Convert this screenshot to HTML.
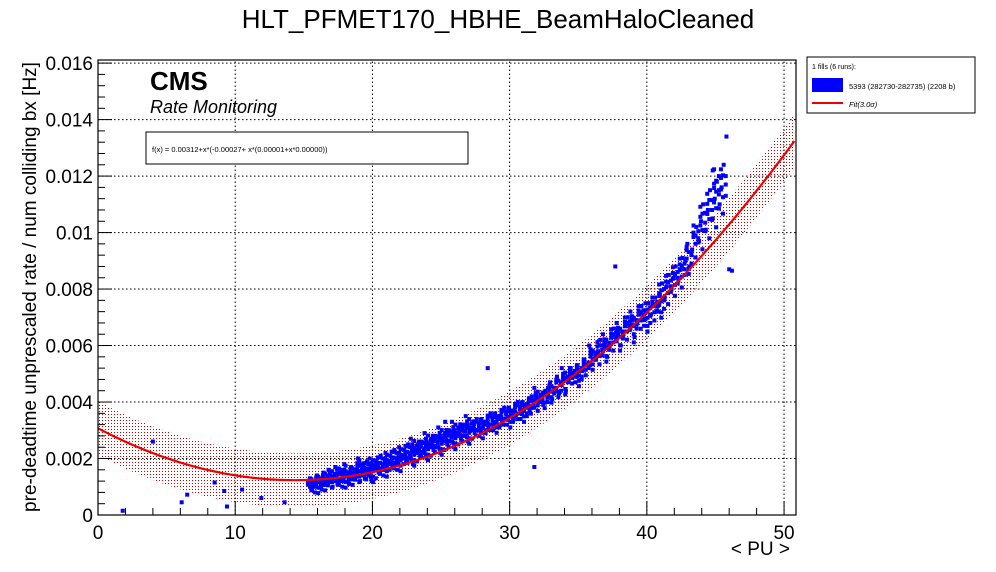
<!DOCTYPE html>
<html><head><meta charset="utf-8"><style>
body{margin:0;background:#fff;}
svg{display:block;font-family:"Liberation Sans",sans-serif;}
</style></head><body>
<svg id="chart" width="996" height="572">
<defs>
<pattern id="dots" width="3" height="3" patternUnits="userSpaceOnUse"><rect width="1" height="1" fill="#b00"/></pattern>
</defs>
<rect width="996" height="572" fill="#fff"/>
<text x="498" y="28" text-anchor="middle" font-size="26">HLT_PFMET170_HBHE_BeamHaloCleaned</text>
<g id="grid"></g>
<g id="band"></g>
<g id="points"></g>
<g id="fitline"></g>
<rect x="98" y="60" width="698" height="455" fill="none" stroke="#000" stroke-width="1.2"/>
<g id="axes"></g>
<text x="150" y="90" font-size="26" font-weight="bold">CMS</text>
<text x="150" y="113" font-size="18" font-style="italic">Rate Monitoring</text>
<g>
<rect x="146" y="132" width="322" height="32" fill="#fff" stroke="#000"/>
<text x="152" y="152" font-size="7.5">f(x) = 0.00312+x*(-0.00027+ x*(0.00001+x*0.00000))</text>
</g>
<text x="36" y="287" font-size="19" text-anchor="middle" transform="rotate(-90 36 287)">pre-deadtime unprescaled rate / num colliding bx [Hz]</text>
<text x="790" y="555" font-size="19" text-anchor="end">&lt; PU &gt;</text>
<g>
<rect x="807" y="57" width="168" height="56" fill="#fff" stroke="#000"/>
<text x="812" y="69" font-size="7">1 fills (6 runs):</text>
<g><rect x="812" y="78" width="31" height="14" fill="#0000ff"/>
<text x="849" y="89" font-size="7.5">5393 (282730-282735) (2208 b)</text></g>
<g><line x1="812" y1="103" x2="843" y2="103" stroke="#e00" stroke-width="2"/>
<text x="849" y="107" font-size="7.5" font-style="italic">Fit(3.0σ)</text></g>
</g>
</svg>
<script>
const fitCoeffs=[0.00307,-0.000255,0.0000088,0.0000000034];
const bandHalfWidth=0.00095;
const xTicks=[0,10,20,30,40,50];
const yTicks=[0,0.002,0.004,0.006,0.008,0.01,0.012,0.014,0.016];
const yTickLabels=["0","0.002","0.004","0.006","0.008","0.01","0.012","0.014","0.016"];
const outlierPU=[1.8,4,6.1,6.5,8.5,9.2,9.4,10.5,11.9,13.6,28.4,31.8,37.7,46,46.2,45.8,25.3];
const outlierRate=[0.00015,0.0026,0.00045,0.00072,0.00115,0.00085,0.0003,0.0009,0.0006,0.00045,0.0052,0.0017,0.0088,0.0087,0.00865,0.0134,0.0033];
const groupPU=[15.5,16,16.5,17,17.5,18,18.5,19,19.5,20,20.5,21,21.5,22,22.5,23,23.5,24,24.5,25,25.5,26,26.5,27,27.5,28,28.5,29,29.5,30,30.5,31,31.5,32,32.5,33,33.5,34,34.5,35,35.5,36,36.5,37,37.5,38,38.5,39,39.5,40,40.5,41,41.5,42,42.5,43,43.5,44,44.5,45,45.5];
const groupRates=[
[.0011,.0013,.0009,.0012,.0010],[.0010,.0014,.0012,.0008,.0013],[.0011,.0015,.0013,.0009,.0012],[.0012,.0014,.0010,.0016,.0013],[.0013,.0011,.0015,.0017,.0012],
[.0012,.0016,.0014,.0010,.0018],[.0013,.0017,.0015,.0011,.0014],[.0014,.0018,.0012,.0016,.0020],[.0015,.0013,.0019,.0017,.0016],[.0014,.0018,.0016,.0020,.0012],
[.0017,.0015,.0021,.0019,.0016],[.0016,.0020,.0018,.0014,.0022],[.0019,.0017,.0023,.0021,.0018],[.0018,.0022,.0020,.0016,.0024],[.0021,.0019,.0025,.0023,.0020],
[.0020,.0024,.0022,.0027,.0018],[.0023,.0021,.0026,.0025,.0022],[.0022,.0026,.0024,.0029,.0020],[.0025,.0023,.0028,.0027],[.0024,.0028,.0026,.0031,.0022],
[.0027,.0025,.0030,.0029],[.0026,.0030,.0028,.0033,.0024],[.0029,.0027,.0032,.0031],[.0028,.0032,.0030,.0035,.0026],[.0031,.0029,.0034],
[.0030,.0034,.0032,.0028],[.0033,.0031,.0036],[.0032,.0036,.0034,.0030],[.0035,.0033,.0038],[.0034,.0038,.0036,.0032],
[.0037,.0035,.0040],[.0036,.0040,.0038,.0034],[.0039,.0037,.0042],[.0038,.0042,.0040,.0045],[.0041,.0039,.0044],
[.0043,.0047,.0041,.0045],[.0045,.0049,.0043],[.0046,.0050,.0044,.0052],[.0048,.0052,.0050],[.0049,.0053,.0051,.0047],
[.0051,.0055,.0053],[.0053,.0057,.0055,.0060],[.0055,.0058,.0062],[.0058,.0061,.0056,.0064],[.0060,.0063,.0066],
[.0062,.0065,.0060,.0068],[.0064,.0067,.0070],[.0066,.0069,.0063,.0072],[.0068,.0071,.0074],[.0069,.0072,.0075,.0067],
[.0071,.0074,.0077],[.0074,.0078,.0082,.0072],[.0077,.0081,.0085],[.0080,.0084,.0088],[.0083,.0087,.0091],
[.0090,.0096,.0088],[.0094,.0099,.0102],[.0097,.0104,.0110],[.0101,.0108,.0115],[.0105,.0112,.0118,.0122],[.0110,.0116,.0124]];

const X0=98,X1=796,Y0=515,Y1=60,XMAX=50.87,YMAX=0.01611;
const xs=v=>X0+v/XMAX*(X1-X0);
const ys=v=>Y0-v/YMAX*(Y0-Y1);
const NS="http://www.w3.org/2000/svg";
function mk(tag,attrs,parent){const e=document.createElementNS(NS,tag);for(const k in attrs)e.setAttribute(k,attrs[k]);parent.appendChild(e);return e;}
const fit=x=>fitCoeffs[0]+x*(fitCoeffs[1]+x*(fitCoeffs[2]+x*fitCoeffs[3]));

const grid=document.getElementById('grid');
xTicks.forEach(t=>{if(t>0){const l=mk('line',{x1:xs(t),x2:xs(t),y1:Y0,y2:Y1,stroke:'#000','stroke-dasharray':'1.5,2.5'},grid);

}});
yTicks.forEach(t=>{if(t>0){const l=mk('line',{x1:X0,x2:X1,y1:ys(t),y2:ys(t),stroke:'#000','stroke-dasharray':'1.5,2.5'},grid);

}});

let up=[],dn=[],ln=[];
for(let x=0;x<=XMAX;x+=0.25){up.push(xs(x)+','+ys(fit(x)+bandHalfWidth));dn.unshift(xs(x)+','+ys(fit(x)-bandHalfWidth));ln.push(xs(x)+','+ys(fit(x)));}
const band=mk('polygon',{points:up.concat(dn).join(' '),fill:'url(#dots)'},document.getElementById('band'));



const pg=document.getElementById('points');
function pt(x,y){const r=mk('rect',{x:xs(x)-2,y:ys(y)-2,width:4,height:4,fill:'#0000ff'},pg);

}
groupPU.forEach((p,i)=>{const g=groupRates[i];g.forEach((r,j)=>{const nx=g[(j+1)%g.length];
pt(p-0.2+(j%3)*0.15,r);pt(p+0.25,(r+nx)/2);pt(p+0.05,r*0.97);pt(p-0.1,(r+nx)/2*1.02);});});
outlierPU.forEach((p,i)=>pt(p,outlierRate[i]));

const fl=mk('polyline',{points:ln.join(' '),fill:'none',stroke:'#e00','stroke-width':2.2},document.getElementById('fitline'));



const ax=document.getElementById('axes');
for(let t=0;t<=50;t+=2){const L=(t%10===0)?14:7;mk('line',{x1:xs(t),x2:xs(t),y1:Y0,y2:Y0-L,stroke:'#000'},ax);}
for(let i=0;i<=40;i++){const t=i*0.0004;if(t>YMAX)break;const L=(i%5===0)?14:7;mk('line',{x1:X0,x2:X0+L,y1:ys(t),y2:ys(t),stroke:'#000'},ax);}
xTicks.forEach(t=>{const e=mk('text',{x:xs(t),y:Y0+24,'font-size':19,'text-anchor':'middle'},ax);e.textContent=t;

});
yTicks.forEach((t,i)=>{const e=mk('text',{x:X0-5,y:ys(t)+7,'font-size':19,'text-anchor':'end'},ax);e.textContent=yTickLabels[i];

});
</script>
</body></html>
